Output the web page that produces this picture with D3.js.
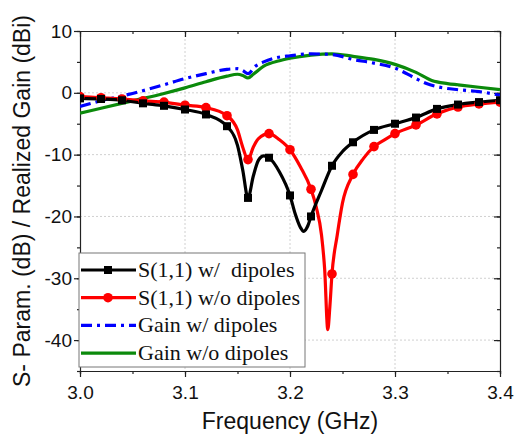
<!DOCTYPE html>
<html>
<head>
<meta charset="utf-8">
<script src="https://cdn.jsdelivr.net/npm/d3@7"></script>
<style>
  body { margin: 0; background: #fff; }
  text { font-family: "Liberation Sans", Arial, sans-serif; }
  .legend text { font-family: "Liberation Serif", "Times New Roman", serif; white-space: pre; }
</style>
</head>
<body>
<script>
// S(1,1) with dipoles (black, squares)
var s11WithF = [3.00, 3.02, 3.04, 3.06, 3.08, 3.10, 3.12, 3.14, 3.15, 3.155, 3.16, 3.165, 3.17, 3.175, 3.18, 3.19, 3.20, 3.205, 3.21, 3.213, 3.217, 3.22, 3.23, 3.24, 3.25, 3.26, 3.28, 3.30, 3.32, 3.34, 3.36, 3.38, 3.40];
var s11WithV = [-0.9, -1.0, -1.2, -1.7, -2.1, -2.7, -3.5, -5.4, -8.5, -12.5, -17.0, -13.5, -10.9, -10.2, -10.5, -12.8, -16.6, -19.6, -21.8, -22.4, -21.5, -20.0, -15.8, -11.8, -9.5, -8.0, -6.0, -5.0, -4.0, -2.6, -1.9, -1.5, -1.2];

// S(1,1) without dipoles (red, circles)
var s11NoF = [3.00, 3.02, 3.04, 3.06, 3.08, 3.10, 3.12, 3.14, 3.15, 3.155, 3.16, 3.165, 3.17, 3.18, 3.19, 3.20, 3.21, 3.22, 3.225, 3.23, 3.233, 3.236, 3.238, 3.24, 3.245, 3.25, 3.26, 3.27, 3.28, 3.29, 3.30, 3.32, 3.34, 3.36, 3.38, 3.40];
var s11NoV = [-0.6, -0.8, -1.0, -1.3, -1.5, -2.0, -2.4, -3.7, -6.0, -8.8, -10.8, -8.8, -7.4, -6.6, -7.6, -9.2, -12.0, -15.6, -18.5, -23.0, -28.5, -38.3, -34.5, -29.3, -23.0, -17.8, -13.2, -10.6, -8.7, -7.6, -6.6, -5.2, -3.4, -2.3, -1.8, -1.5];

// marker positions (GHz)
var markerF = [3.00, 3.02, 3.04, 3.06, 3.08, 3.10, 3.12, 3.14, 3.16, 3.18, 3.20, 3.22, 3.24, 3.26, 3.28, 3.30, 3.32, 3.34, 3.36, 3.38, 3.40];

// realized gain with dipoles (blue dash-dot)
var gainWithF = [3.00, 3.02, 3.05, 3.08, 3.10, 3.12, 3.14, 3.15, 3.155, 3.16, 3.167, 3.175, 3.185, 3.20, 3.22, 3.24, 3.26, 3.28, 3.30, 3.32, 3.33, 3.34, 3.36, 3.38, 3.40];
var gainWithV = [-2.2, -1.3, -0.1, 1.3, 2.3, 3.1, 3.8, 3.9, 3.6, 3.1, 4.3, 5.0, 5.6, 6.0, 6.3, 6.2, 5.4, 4.8, 4.0, 2.3, 1.5, 1.0, 0.5, 0.2, -0.4];

// realized gain without dipoles (green)
var gainNoF = [3.00, 3.02, 3.05, 3.08, 3.10, 3.12, 3.14, 3.15, 3.155, 3.16, 3.165, 3.175, 3.19, 3.20, 3.22, 3.24, 3.26, 3.28, 3.30, 3.32, 3.335, 3.35, 3.36, 3.38, 3.40];
var gainNoV = [-3.3, -2.5, -1.3, -0.1, 0.8, 1.8, 2.7, 3.0, 2.8, 2.4, 3.0, 4.3, 5.2, 5.6, 6.1, 6.3, 5.9, 5.4, 4.6, 3.3, 2.0, 1.5, 1.3, 0.9, 0.5];

var xTicks = [3.0, 3.1, 3.2, 3.3, 3.4];
var yTicks = [10, 0, -10, -20, -30, -40];
var legendLabels = ["S(1,1) w/  dipoles", "S(1,1) w/o dipoles", "Gain w/ dipoles", "Gain w/o dipoles"];

window.onload = drawChart;

function drawChart(){

    var width = 514,
        height = 439;
    var mLeft = 80, mRight = 500, mTop = 31, mBottom = 371;

    var svg = d3.select("body")
        .append("svg")
        .attr("width", width)
        .attr("height", height);

    var x = d3.scaleLinear().domain([3.0, 3.4]).range([mLeft, mRight]);
    var y = d3.scaleLinear().domain([-45, 10]).range([mBottom, mTop]);

    svg.append("clipPath").attr("id", "plotclip")
        .append("rect")
        .attr("x", mLeft).attr("y", mTop)
        .attr("width", mRight - mLeft).attr("height", mBottom - mTop);

    //dotted grid at major ticks
    var grid = svg.append("g").attr("class", "grid");
    grid.selectAll(".gx")
        .data(xTicks.slice(1, -1))
        .enter().append("line")
        .attr("x1", d => x(d)).attr("x2", d => x(d))
        .attr("y1", mTop).attr("y2", mBottom)
        .attr("stroke", "#d0d0d0").attr("stroke-width", 1).attr("stroke-dasharray", "2,2");
    grid.selectAll(".gy")
        .data(yTicks.slice(1))
        .enter().append("line")
        .attr("x1", mLeft).attr("x2", mRight)
        .attr("y1", d => y(d)).attr("y2", d => y(d))
        .attr("stroke", "#d0d0d0").attr("stroke-width", 1).attr("stroke-dasharray", "2,2");

    //axes
    var minorX = d3.range(3.0, 3.4001, 0.05);
    var minorY = d3.range(-45, 10.001, 5);

    function styleAxis(g) {
        g.selectAll("path").attr("stroke", "#222").attr("stroke-width", 1.2);
        g.selectAll("line").attr("stroke", "#222").attr("stroke-width", 1.2);
        g.selectAll("text").attr("font-size", "19px").attr("fill", "#111")
            .attr("font-family", "'Liberation Sans', Arial, sans-serif");
    }

    // bottom
    svg.append("g")
        .attr("transform", "translate(0," + mBottom + ")")
        .call(d3.axisBottom(x).tickValues(minorX).tickSize(3).tickFormat(""))
        .call(styleAxis);
    svg.append("g")
        .attr("transform", "translate(0," + mBottom + ")")
        .call(d3.axisBottom(x).tickValues(xTicks).tickSize(6).tickPadding(9).tickFormat(d3.format(".1f")))
        .call(styleAxis)
        .call(g => g.select(".domain").remove());

    // left
    svg.append("g")
        .attr("transform", "translate(" + mLeft + ",0)")
        .call(d3.axisLeft(y).tickValues(minorY).tickSize(3).tickFormat(""))
        .call(styleAxis);
    svg.append("g")
        .attr("transform", "translate(" + mLeft + ",0)")
        .call(d3.axisLeft(y).tickValues(yTicks).tickSize(6).tickPadding(2).tickFormat(d => String(d)))
        .call(styleAxis)
        .call(g => g.select(".domain").remove());

    // top and right, ticks pointing inward
    svg.append("g")
        .attr("transform", "translate(0," + mTop + ")")
        .call(d3.axisBottom(x).tickValues(minorX).tickSize(3).tickSizeOuter(0).tickFormat(""))
        .call(styleAxis);
    svg.append("g")
        .attr("transform", "translate(0," + mTop + ")")
        .call(d3.axisBottom(x).tickValues(xTicks).tickSize(6).tickFormat(""))
        .call(styleAxis).call(g => g.select(".domain").remove());
    svg.append("g")
        .attr("transform", "translate(" + mRight + ",0)")
        .call(d3.axisLeft(y).tickValues(minorY).tickSize(3).tickSizeOuter(0).tickFormat(""))
        .call(styleAxis);
    svg.append("g")
        .attr("transform", "translate(" + mRight + ",0)")
        .call(d3.axisLeft(y).tickValues(yTicks).tickSize(6).tickFormat(""))
        .call(styleAxis).call(g => g.select(".domain").remove());

    //curves
    var plot = svg.append("g").attr("clip-path", "url(#plotclip)");

    var line = d3.line()
        .x(d => x(d[0]))
        .y(d => y(d[1]))
        .curve(d3.curveMonotoneX);

    var series = [
        {f: gainNoF, v: gainNoV, color: "#0b8a0b", dash: null},
        {f: gainWithF, v: gainWithV, color: "#0000ff", dash: "11,5,3,5"},
        {f: s11NoF, v: s11NoV, color: "#ff0000", dash: null},
        {f: s11WithF, v: s11WithV, color: "#000000", dash: null}
    ];

    series.forEach(function(s){
        plot.append("path")
            .datum(d3.zip(s.f, s.v))
            .attr("fill", "none")
            .attr("stroke", s.color)
            .attr("stroke-width", 3.2)
            .attr("stroke-linejoin", "round")
            .attr("stroke-dasharray", s.dash)
            .attr("d", line);
    });

    function valueAt(fs, vs, f) {
        var i = fs.findIndex(d => Math.abs(d - f) < 1e-6);
        return vs[i];
    }

    // red circles
    plot.selectAll(".redMark")
        .data(markerF)
        .enter().append("circle")
        .attr("cx", d => x(d))
        .attr("cy", d => y(valueAt(s11NoF, s11NoV, d)))
        .attr("r", 4.8)
        .attr("fill", "#ff0000");

    // black squares
    plot.selectAll(".blackMark")
        .data(markerF)
        .enter().append("rect")
        .attr("x", d => x(d) - 4)
        .attr("y", d => y(valueAt(s11WithF, s11WithV, d)) - 4)
        .attr("width", 8).attr("height", 8)
        .attr("fill", "#000");

    //legend
    var legend = svg.append("g").attr("class", "legend");
    legend.append("rect")
        .attr("x", 79).attr("y", 253)
        .attr("width", 226).attr("height", 114)
        .attr("fill", "#fff")
        .attr("stroke", "#777").attr("stroke-width", 1);

    var legendStyles = [series[3], series[2], series[1], series[0]];
    legendLabels.forEach(function(label, i){
        var ly = 270 + i * 27.7;
        var s = legendStyles[i];
        legend.append("line")
            .attr("x1", 81).attr("x2", 136)
            .attr("y1", ly).attr("y2", ly)
            .attr("stroke", s.color).attr("stroke-width", 3.2)
            .attr("stroke-dasharray", s.dash);
        if (i === 0) {
            legend.append("rect").attr("x", 104).attr("y", ly - 4).attr("width", 8).attr("height", 8).attr("fill", "#000");
        }
        if (i === 1) {
            legend.append("circle").attr("cx", 108).attr("cy", ly).attr("r", 4.8).attr("fill", "#ff0000");
        }
        legend.append("text")
            .attr("x", 138).attr("y", ly + 7)
            .attr("font-size", "22px")
            .attr("fill", "#111")
            .text(label);
    });

    //axis titles
    svg.append("text")
        .attr("x", (mLeft + mRight) / 2)
        .attr("y", 429)
        .attr("text-anchor", "middle")
        .attr("font-size", "23px")
        .attr("fill", "#111")
        .text("Frequency (GHz)");

    svg.append("text")
        .attr("transform", "translate(30," + ((mTop + mBottom) / 2) + ") rotate(-90)")
        .attr("text-anchor", "middle")
        .attr("font-size", "23px")
        .attr("fill", "#111")
        .text("S- Param. (dB) / Realized Gain (dBi)");
}
</script>
</body>
</html>
